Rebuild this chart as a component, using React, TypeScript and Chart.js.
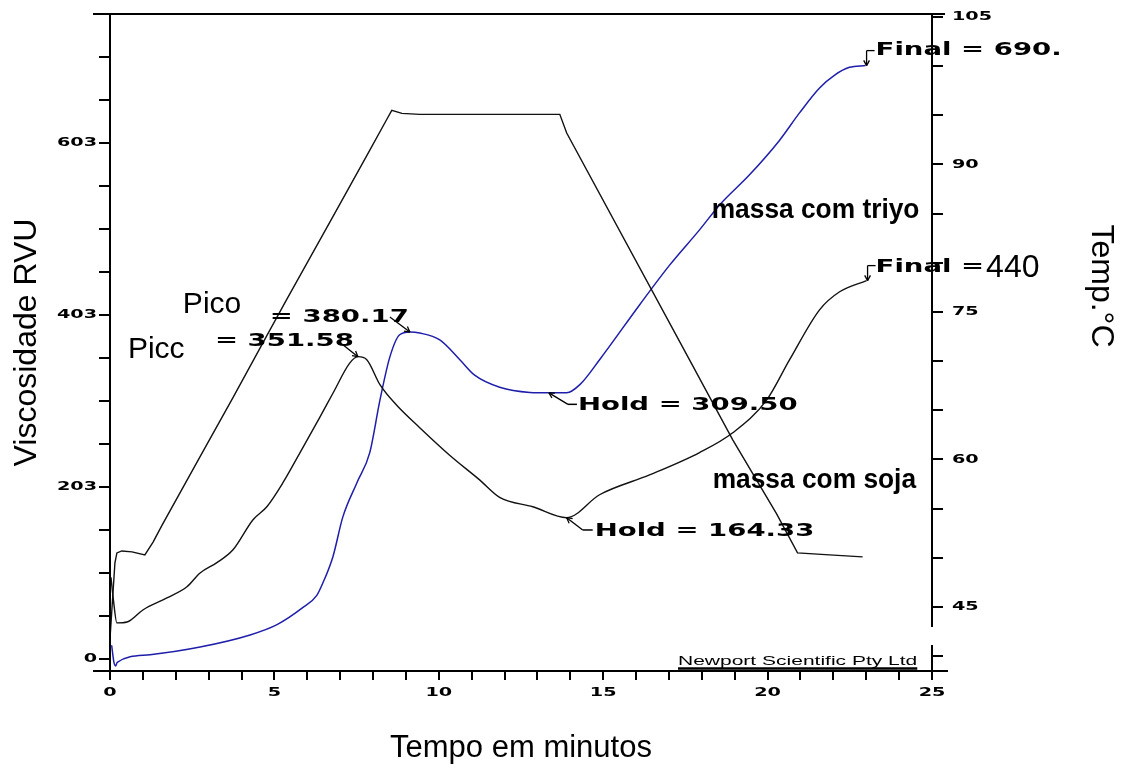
import { useEffect, useRef } from 'react';
import { Chart, registerables } from 'chart.js';

Chart.register(...registerables);

// "massa com triyo" (blue) – time in minutes, viscosity in RVU
const triyoTime = [0.05, 0.12, 0.17, 0.22, 1.22, 2.74, 4.26, 5.08, 5.87, 6.29, 6.47, 6.78, 7.08, 7.51, 7.9, 8.21, 8.51, 8.81, 9.12, 9.42, 10.03, 10.64, 11.09, 11.85, 12.77, 13.35, 13.89, 14.29, 14.89, 16.11, 17.02, 17.93, 18.54, 19.45, 20.36, 20.97, 21.58, 22.04, 22.49, 22.98];
const triyoVisc = [16, -4, -8, -4, 5, 14, 28, 40, 60, 74, 88, 119, 165, 205, 240, 301, 351, 377, 380.17, 379, 371, 348, 330, 316, 310, 309.5, 309.5, 319, 348, 412, 458, 499, 528, 563, 603, 635, 664, 679, 688, 690];

// "massa com soja" (black)
const sojaTime = [0.03, 0.1, 0.21, 0.52, 1.0, 1.73, 2.34, 2.74, 3.25, 3.74, 4.35, 4.77, 5.26, 5.78, 6.38, 6.78, 7.29, 7.54, 7.81, 8.21, 8.72, 9.42, 10.33, 11.25, 11.85, 12.86, 13.89, 14.89, 16.41, 17.93, 18.94, 19.97, 20.67, 21.58, 22.19, 23.01];
const sojaVisc = [95, 70, 42, 43, 57, 71, 84, 100, 112, 127, 162, 177, 205, 240, 281, 309, 344, 351.58, 348, 319, 295, 269, 237, 208, 188, 177, 164.33, 191, 214, 240, 263, 301, 348, 406, 427, 440];

// Temperature profile (°C, right axis)
const tempTime = [0, 0.15, 0.21, 0.36, 0.67, 1.06, 1.31, 1.58, 2.74, 3.74, 4.77, 5.38, 6.78, 7.81, 8.42, 8.57, 8.88, 9.42, 11.85, 13.68, 13.89, 17.63, 18.94, 20.27, 20.91, 21.88, 22.89];
const tempValue = [41.8, 49.5, 50.5, 50.7, 50.6, 50.3, 51.6, 53.3, 60.3, 66.3, 72.6, 76.3, 84.7, 90.9, 94.6, 95.5, 95.2, 95.1, 95.1, 95.1, 93.2, 70.1, 62.0, 54.5, 50.5, 50.3, 50.1];

// Annotated points: Pico (triyo), Picc (soja), Hold (triyo), Hold (soja), Final (triyo), Final (soja)
const markTime = [9.12, 7.54, 13.35, 13.89, 22.98, 23.01];
const markVisc = [380.17, 351.58, 309.5, 164.33, 690, 440];

// Series label positions (time, viscosity)
const seriesLabelTime = [18.3, 18.33];
const seriesLabelVisc = [513, 199];

// Tick labels
const viscTickValues = [0, 200, 400, 600];
const viscTickTexts = ['0', '203', '403', '603'];
const tempTickValues = [45, 60, 75, 90, 105];
const timeTickValues = [0, 5, 10, 15, 20, 25];

const SANS = '"Liberation Sans", Arial, sans-serif';
const BOLD = 'bold 17px "DejaVu Sans", sans-serif';
const SX_BOLD = 1.62;
const LIGHT = '30px ' + SANS;
const SERIES = 'bold 28px ' + SANS;
const SX_SERIES = 0.94;
const TICK = 'bold 12px "DejaVu Sans", sans-serif';
const SX_TICK = 1.6;
const SMALL = '12.5px ' + SANS;
const SX_SMALL = 1.68;

function drawText(
  ctx: CanvasRenderingContext2D,
  text: string,
  x: number,
  y: number,
  font: string,
  sx: number,
  align: 'left' | 'right' | 'center' = 'left',
  baseline: CanvasTextBaseline = 'alphabetic'
) {
  ctx.save();
  ctx.font = font;
  const w = ctx.measureText(text).width * sx;
  let x0 = x;
  if (align === 'right') x0 = x - w;
  else if (align === 'center') x0 = x - w / 2;
  ctx.translate(x0, y);
  ctx.scale(sx, 1);
  ctx.textAlign = 'left';
  ctx.textBaseline = baseline;
  ctx.fillStyle = '#000';
  ctx.fillText(text, 0, 0);
  ctx.restore();
  return w;
}

const overlay = {
  id: 'overlay',
  afterDraw(chart: any) {
    const ctx: CanvasRenderingContext2D = chart.ctx;
    const ca = chart.chartArea;
    const xs = chart.scales.x;
    const yv = chart.scales.y;
    const yt = chart.scales.yT;
    ctx.save();
    ctx.strokeStyle = '#000';
    ctx.fillStyle = '#000';
    const line = (x1: number, y1: number, x2: number, y2: number, w = 2) => {
      ctx.lineWidth = w;
      ctx.beginPath();
      ctx.moveTo(x1, y1);
      ctx.lineTo(x2, y2);
      ctx.stroke();
    };
    const arrow = (x1: number, y1: number, x2: number, y2: number) => {
      line(x1, y1, x2, y2, 1.3);
      const a = Math.atan2(y2 - y1, x2 - x1);
      const L = 6;
      line(x2, y2, x2 - L * Math.cos(a - 0.5), y2 - L * Math.sin(a - 0.5), 1.3);
      line(x2, y2, x2 - L * Math.cos(a + 0.5), y2 - L * Math.sin(a + 0.5), 1.3);
    };

    // frame / axis lines
    line(ca.left - 17, ca.top, ca.right + 13, ca.top);
    line(ca.left, ca.top, ca.left, ca.bottom + 9);
    line(ca.left - 17, ca.bottom, ca.right + 16, ca.bottom);
    line(ca.right, ca.top, ca.right, ca.bottom - 44);
    line(ca.right, ca.bottom - 26, ca.right, ca.bottom + 9);

    // tick labels
    viscTickValues.forEach((v, i) => {
      drawText(ctx, viscTickTexts[i], ca.left - 13, yv.getPixelForValue(v), TICK, SX_TICK, 'right', 'middle');
    });
    tempTickValues.forEach((v) => {
      drawText(ctx, String(v), ca.right + 20, yt.getPixelForValue(v), TICK, SX_TICK, 'left', 'middle');
    });
    timeTickValues.forEach((v) => {
      drawText(ctx, String(v), xs.getPixelForValue(v), ca.bottom + 22, TICK, SX_TICK, 'center', 'middle');
    });

    // right axis title
    ctx.save();
    ctx.translate(ca.right + 169, 286);
    ctx.rotate(Math.PI / 2);
    ctx.font = '32px ' + SANS;
    ctx.textAlign = 'center';
    ctx.textBaseline = 'middle';
    ctx.fillText('Temp.°C', 0, 0);
    ctx.restore();

    const P = (i: number) => [xs.getPixelForValue(markTime[i]), yv.getPixelForValue(markVisc[i])];

    // Pico (triyo)
    const [ax, ay] = P(0);
    drawText(ctx, 'Pico', ax - 227, ay - 19, LIGHT, 1);
    drawText(ctx, '= 380.17', ax - 140, ay - 10, BOLD, SX_BOLD);
    arrow(ax - 20, ay - 15, ax, ay);

    // Picc (soja)
    const [bx, by] = P(1);
    drawText(ctx, 'Picc', bx - 230, by + 1.5, LIGHT, 1);
    drawText(ctx, '= 351.58', bx - 143, by - 10.5, BOLD, SX_BOLD);
    arrow(bx - 15, by - 12, bx, by);

    // Hold triyo
    const [cx, cy] = P(2);
    arrow(cx + 19, cy + 11.5, cx, cy);
    line(cx + 19, cy + 11.5, cx + 28, cy + 11.5, 1.5);
    drawText(ctx, 'Hold = 309.50', cx + 29, cy + 17, BOLD, SX_BOLD);

    // Hold soja
    const [dx, dy] = P(3);
    arrow(dx + 16, dy + 12.3, dx, dy);
    line(dx + 16, dy + 12.3, dx + 26, dy + 12.3, 1.5);
    drawText(ctx, 'Hold = 164.33', dx + 28, dy + 18.3, BOLD, SX_BOLD);

    // Final triyo
    const [ex, ey] = P(4);
    arrow(ex + 1, ey - 15, ex + 1, ey);
    line(ex + 1, ey - 15, ex + 9, ey - 15, 1.3);
    drawText(ctx, 'Final = 690.', ex + 10, ey - 10.6, BOLD, SX_BOLD);

    // Final soja
    const [fx, fy] = P(5);
    arrow(fx + 1, fy - 15, fx + 1, fy);
    line(fx + 1, fy - 15, fx + 9, fy - 15, 1.3);
    const wf = drawText(ctx, 'Final =', fx + 9, fy - 8.6, BOLD, SX_BOLD);
    drawText(ctx, '440', fx + 9 + wf + 2, fy - 3.6, '32px ' + SANS, 1);

    // series labels
    drawText(ctx, 'massa com triyo', xs.getPixelForValue(seriesLabelTime[0]), yv.getPixelForValue(seriesLabelVisc[0]), SERIES, SX_SERIES);
    drawText(ctx, 'massa com soja', xs.getPixelForValue(seriesLabelTime[1]), yv.getPixelForValue(seriesLabelVisc[1]), SERIES, SX_SERIES);

    // instrument credit
    const wn = drawText(ctx, 'Newport Scientific Pty Ltd', ca.right - 254, ca.bottom - 6, SMALL, SX_SMALL);
    line(ca.right - 254, ca.bottom - 2.5, ca.right - 254 + wn, ca.bottom - 2.5, 2.5);

    ctx.restore();
  },
};

export default function App() {
  const ref = useRef<HTMLCanvasElement | null>(null);

  useEffect(() => {
    if (!ref.current) return;
    const pts = (xs: number[], ys: number[]) => xs.map((x, i) => ({ x, y: ys[i] }));
    const chart = new Chart(ref.current, {
      type: 'line',
      data: {
        datasets: [
          {
            label: 'Temperatura',
            data: pts(tempTime, tempValue),
            yAxisID: 'yT',
            borderColor: '#111',
            borderWidth: 1.4,
            pointRadius: 0,
            tension: 0,
          },
          {
            label: 'massa com soja',
            data: pts(sojaTime, sojaVisc),
            yAxisID: 'y',
            borderColor: '#111',
            borderWidth: 1.4,
            pointRadius: 0,
            cubicInterpolationMode: 'monotone',
          },
          {
            label: 'massa com triyo',
            data: pts(triyoTime, triyoVisc),
            yAxisID: 'y',
            borderColor: '#1e1eaa',
            borderWidth: 1.5,
            pointRadius: 0,
            cubicInterpolationMode: 'monotone',
          },
        ],
      },
      options: {
        responsive: false,
        animation: false,
        devicePixelRatio: 1,
        layout: { padding: { top: 14, left: 0, right: 0, bottom: 0 } },
        plugins: {
          legend: { display: false },
          tooltip: { enabled: false },
        },
        scales: {
          x: {
            type: 'linear',
            min: 0,
            max: 25,
            border: { display: false },
            grid: { display: true, drawOnChartArea: false, drawTicks: true, tickLength: 9, color: '#000', lineWidth: 2 },
            ticks: { display: false, stepSize: 1, autoSkip: false },
            title: {
              display: true,
              text: 'Tempo em minutos',
              color: '#000',
              font: { family: SANS, size: 31 },
              padding: { top: 0, bottom: 2 },
            },
            afterFit: (s: any) => {
              s.height = 98;
            },
          },
          y: {
            type: 'linear',
            position: 'left',
            min: -13.95,
            max: 750,
            border: { display: false },
            grid: { display: true, drawOnChartArea: false, drawTicks: true, tickLength: 11, color: '#000', lineWidth: 2 },
            ticks: { display: false, stepSize: 50, includeBounds: false, autoSkip: false },
            title: {
              display: true,
              text: 'Viscosidade RVU',
              color: '#000',
              font: { family: SANS, size: 32 },
              padding: { top: 8, bottom: 0 },
            },
            afterFit: (s: any) => {
              s.width = 110;
            },
          },
          yT: {
            type: 'linear',
            position: 'right',
            min: 38.49,
            max: 105.305,
            border: { display: false },
            grid: { display: true, drawOnChartArea: false, drawTicks: true, tickLength: 11, color: '#000', lineWidth: 2 },
            ticks: { display: false, stepSize: 5, includeBounds: false, autoSkip: false },
            afterFit: (s: any) => {
              s.width = 189;
            },
          },
        },
      } as any,
      plugins: [overlay],
    });
    return () => chart.destroy();
  }, []);

  return (
    <div style={{ position: 'absolute', left: 0, top: 0, width: 1121, height: 769, background: '#fff' }}>
      <canvas ref={ref} width={1121} height={769} style={{ display: 'block', width: 1121, height: 769 }} />
    </div>
  );
}
